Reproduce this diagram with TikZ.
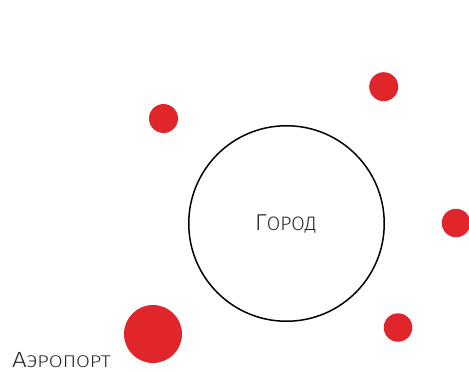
\documentclass[tikz,border=0pt]{standalone}
\usepackage{fontspec}
\newfontfamily\lightfont{Fira Sans Light}
\definecolor{dotred}{RGB}{224,38,42}
\tikzset{
  dot/.style={circle, fill=dotred, draw=none, inner sep=0pt, minimum size=#1},
  city/.style={circle, draw=black, line width=1.5pt, inner sep=0pt, minimum size=195.5pt},
  lbl/.style={anchor=base west, inner sep=0pt, text=black!85, font=\lightfont}
}
\begin{document}
\begin{tikzpicture}[x=1pt,y=-1pt]
\useasboundingbox (0,0) rectangle (469,372);
\node[city] (gorod) at (286.5,223.5) {};
\node[lbl] (gorodtxt) at (255,230) {\fontsize{23}{23}\selectfont Г\fontsize{19.5}{19.5}\selectfont ОРОД};
\node[dot=29pt] (d1) at (163.5,118.5) {};
\node[dot=29pt] (d2) at (383.7,86.7) {};
\node[dot=28.5pt] (d3) at (456,223) {};
\node[dot=28.5pt] (d4) at (398,327.5) {};
\node[dot=58pt] (air) at (153,334) {};
\node[lbl, xscale=1.18] (airtxt) at (12,367) {\fontsize{22}{22}\selectfont А\fontsize{17}{17}\selectfont ЭРОПОРТ};
\end{tikzpicture}
\end{document}
